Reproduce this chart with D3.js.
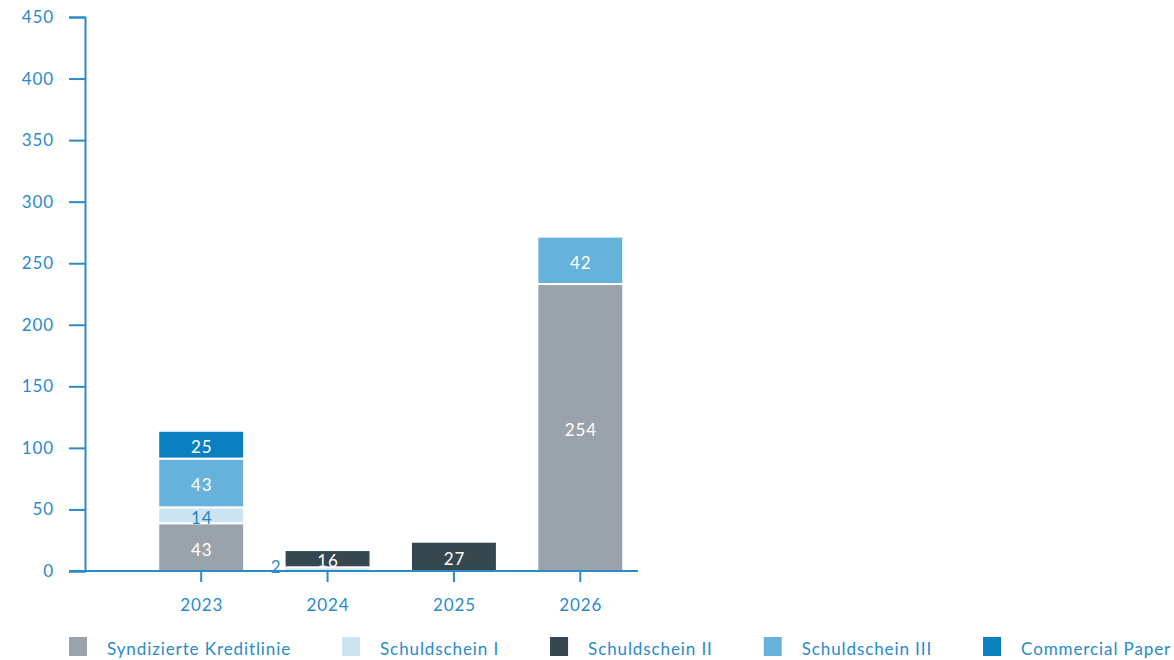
<!DOCTYPE html>
<html>
<head>
<meta charset="utf-8">
<script src="https://cdn.jsdelivr.net/npm/d3@7"></script>
<style>
  body { margin: 0; background: #fff; }
  svg text { font-family: Lato, "Open Sans", sans-serif; letter-spacing: 0.9px; }
</style>
</head>
<body>
<svg id="canvas" width="1174" height="660"></svg>
<script>
// years and series
let years = ["2023", "2024", "2025", "2026"];
let seriesNames = ["Syndizierte Kreditlinie", "Schuldschein I", "Schuldschein II", "Schuldschein III", "Commercial Paper"];
let yTicks = [0, 50, 100, 150, 200, 250, 300, 350, 400, 450];

// bar heights as drawn in the picture
let syndiziert = [38.8, 0, 0, 233.1];
let schuldscheinI = [12.9, 3.0, 0, 0];
let schuldscheinII = [0, 14.0, 23.8, 0];
let schuldscheinIII = [39.6, 0, 0, 38.5];
let commercialPaper = [22.6, 0, 0, 0];

// the numbers printed on the segments
let syndiziertLabel = [43, null, null, 254];
let schuldscheinILabel = [14, 2, null, null];
let schuldscheinIILabel = [null, 16, 27, null];
let schuldscheinIIILabel = [43, null, null, 42];
let commercialPaperLabel = [25, null, null, null];

let colors = ["#9aa3ab", "#cce4f2", "#36474f", "#66b2da", "#0a7fc0"];
let labelColors = ["#fff", "#2384c6", "#fff", "#fff", "#fff"];
let blue = "#2a8acb";

let values = [syndiziert, schuldscheinI, schuldscheinII, schuldscheinIII, commercialPaper];
let labels = [syndiziertLabel, schuldscheinILabel, schuldscheinIILabel, schuldscheinIIILabel, commercialPaperLabel];

let table = years.map((year, i) => {
    let row = { year: year };
    seriesNames.forEach((name, s) => { row[name] = values[s][i]; });
    return row;
});

let stacked = d3.stack().keys(seriesNames)(table);

let canvas = d3.select("#canvas");

let yScale = d3.scaleLinear().domain([0, 450]).range([571, 17]);
let xScale = d3.scaleBand().domain(years).range([138, 643.5]).paddingInner(0.32).paddingOuter(0.16);

let isSmall = (d) => yScale(d[0]) - yScale(d[1]) < 8;

// bars
stacked.forEach((layer, s) => {
    let g = canvas.append("g");
    g.selectAll("rect")
        .data(layer.filter((d) => d[1] - d[0] > 0))
        .enter()
        .append("rect")
        .attr("x", (d) => xScale(d.data.year))
        .attr("width", xScale.bandwidth())
        .attr("y", (d) => yScale(d[1]))
        .attr("height", (d) => yScale(d[0]) - yScale(d[1]))
        .attr("fill", colors[s])
        .attr("stroke", "#fff")
        .attr("stroke-width", 2);

    g.selectAll("text")
        .data(layer.map((d, i) => ({ d: d, label: labels[s][i] })).filter((o) => o.label !== null))
        .enter()
        .append("text")
        .attr("x", (o) => isSmall(o.d) ? xScale(o.d.data.year) - 3 : xScale(o.d.data.year) + xScale.bandwidth() / 2 + 0.5)
        .attr("y", (o) => {
            let mid = (yScale(o.d[0]) + yScale(o.d[1])) / 2;
            return isSmall(o.d) ? mid - 3 : mid + 2;
        })
        .attr("text-anchor", (o) => isSmall(o.d) ? "end" : "middle")
        .attr("dominant-baseline", "central")
        .attr("fill", (o) => isSmall(o.d) ? blue : labelColors[s])
        .style("font-size", "17px")
        .text((o) => o.label);
});

// y axis
let yAxis = canvas.append("g").attr("transform", "translate(85,0)")
    .call(d3.axisLeft(yScale).tickValues(yTicks).tickSize(16).tickPadding(15));
yAxis.select(".domain").attr("stroke", blue).attr("stroke-width", 2);
yAxis.selectAll(".tick line").attr("stroke", blue).attr("stroke-width", 2);
yAxis.selectAll(".tick text").attr("fill", blue).style("font-size", "17px");

// x axis
canvas.append("line")
    .attr("x1", 69).attr("x2", 638)
    .attr("y1", yScale(0)).attr("y2", yScale(0))
    .attr("stroke", blue).attr("stroke-width", 2);

canvas.selectAll(".xtick")
    .data(years)
    .enter()
    .append("line")
    .attr("x1", (d) => xScale(d) + xScale.bandwidth() / 2)
    .attr("x2", (d) => xScale(d) + xScale.bandwidth() / 2)
    .attr("y1", yScale(0))
    .attr("y2", yScale(0) + 11)
    .attr("stroke", blue).attr("stroke-width", 2);

canvas.selectAll(".xlabel")
    .data(years)
    .enter()
    .append("text")
    .attr("x", (d) => xScale(d) + xScale.bandwidth() / 2 + 0.5)
    .attr("y", 604)
    .attr("text-anchor", "middle")
    .attr("dominant-baseline", "central")
    .attr("fill", blue)
    .style("font-size", "17px")
    .text((d) => d);

// legend
let legend = canvas.append("g");
let legendX = 69;
seriesNames.forEach((name, s) => {
    legend.append("rect")
        .attr("x", legendX).attr("y", 637)
        .attr("width", 18).attr("height", 19)
        .attr("fill", colors[s]);
    let t = legend.append("text")
        .attr("x", legendX + 38).attr("y", 648)
        .attr("dominant-baseline", "central")
        .attr("fill", blue)
        .style("font-size", "17px")
        .text(name);
    legendX += 38 + t.node().getComputedTextLength() + 51;
});
</script>
</body>
</html>
